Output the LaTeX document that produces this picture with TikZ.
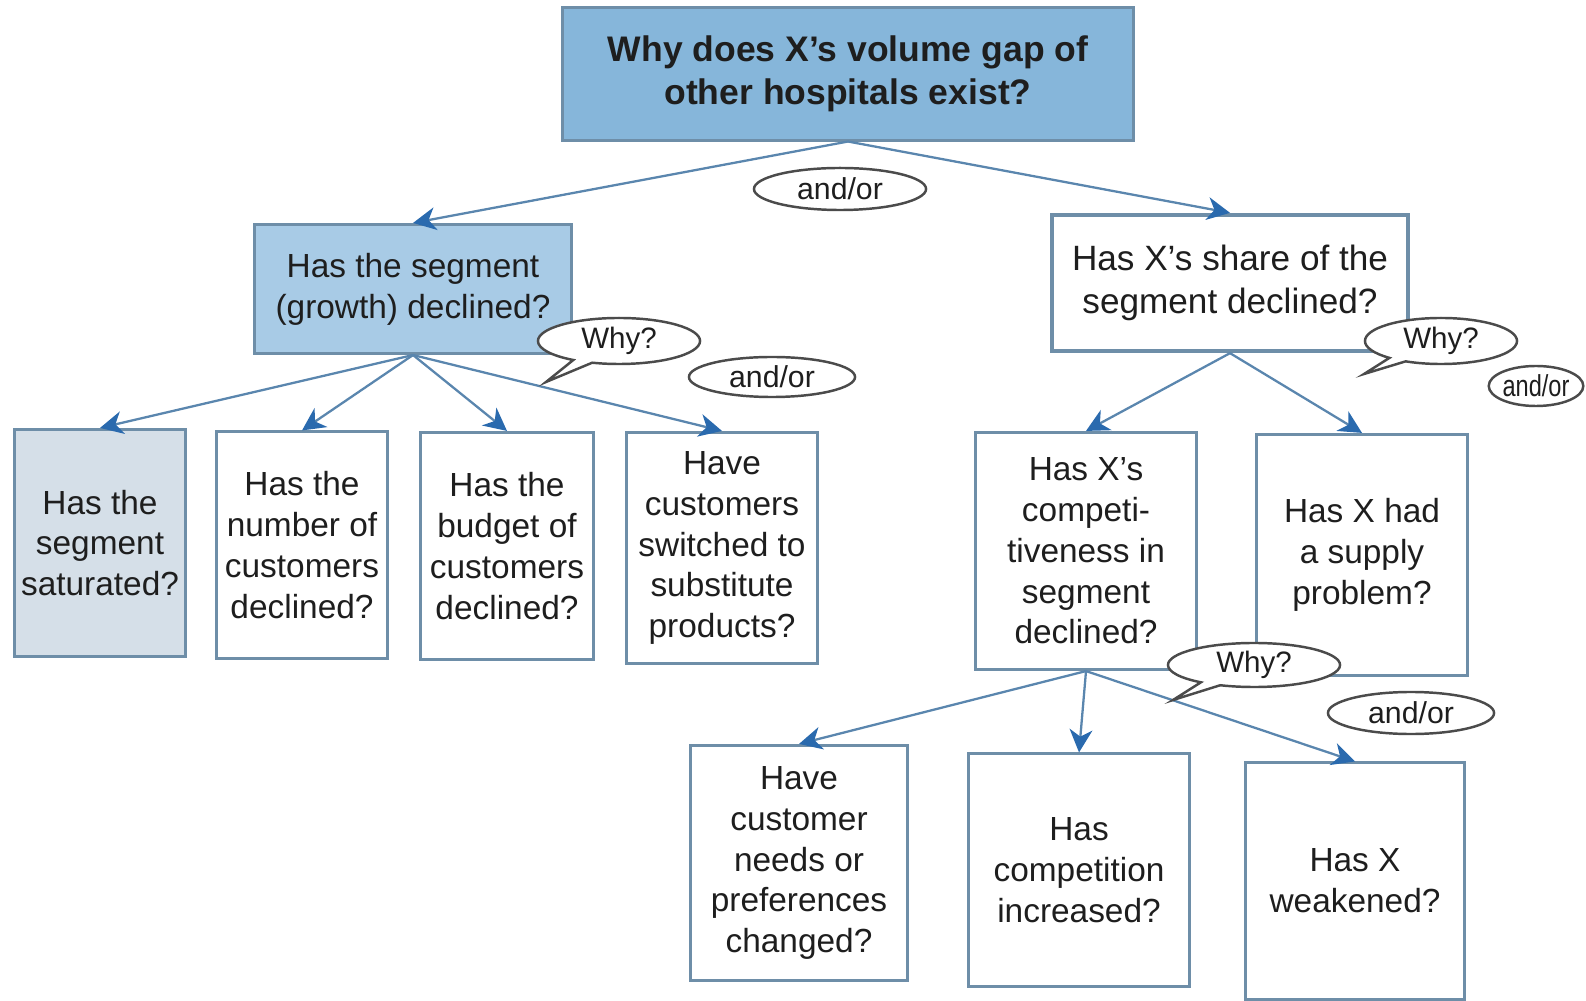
\documentclass[tikz,border=0pt]{standalone}
\usepackage{fontspec}
\setmainfont{Liberation Sans}
\usetikzlibrary{arrows.meta,shapes.geometric,shapes.callouts}

\definecolor{topfill}{HTML}{86B6DA}
\definecolor{midfill}{HTML}{A8CBE6}
\definecolor{palefill}{HTML}{D5DFE8}
\definecolor{edge}{HTML}{6E8EA8}
\definecolor{link}{HTML}{5A86AE}
\definecolor{tip}{HTML}{2A6AAE}
\definecolor{ink}{HTML}{1E1E1E}

\tikzset{
  qbox/.style={draw=edge, line width=0.85pt, fill=white, align=center,
    text=ink, font=\fontsize{9.5}{11.6}\selectfont, inner sep=2pt},
  size/.style 2 args={minimum width=#1cm, minimum height=#2cm},
  link/.style={draw=link, line width=0.65pt,
    -{Stealth[length=6.5pt,width=6.5pt,inset=2pt,color=tip]}},
  andor/.style={ellipse, draw=ink!80, line width=0.7pt, fill=white,
    text=ink, font=\fontsize{8.6}{10}\selectfont, inner sep=0pt},
  whybub/.style={ellipse callout, draw=ink!80, line width=0.7pt, fill=white,
    text=ink, font=\fontsize{8.4}{10}\selectfont, inner sep=0pt,
    callout pointer width=12pt}
}

\begin{document}
\begin{tikzpicture}[x=0.01cm,y=-0.01cm]
\useasboundingbox (0,0) rectangle (1586,1001);

% question boxes
\node[qbox, fill=topfill, font=\bfseries\fontsize{10.1}{12.2}\selectfont,
      size={5.70}{1.32}] (top) at (848,74)
  {Why does X’s volume gap of\\other hospitals exist?};
\node[qbox, fill=midfill, size={3.17}{1.29}] (seg) at (413,289)
  {Has the segment\\(growth) declined?};
\node[qbox, font=\fontsize{10}{12.2}\selectfont, line width=1.2pt,
      size={3.56}{1.36}] (share) at (1230,283)
  {Has X’s share of the\\segment declined?};

\node[qbox, fill=palefill, size={1.70}{2.27}] (sat) at (100,543)
  {Has the\\segment\\saturated?};
\node[qbox, size={1.71}{2.26}] (num) at (302,545)
  {Has the\\number of\\customers\\declined?};
\node[qbox, size={1.72}{2.27}] (bud) at (507,546)
  {Has the\\budget of\\customers\\declined?};
\node[qbox, size={1.90}{2.31}] (sub) at (722,548)
  {Have\\customers\\switched to\\substitute\\products?};

\node[qbox, size={2.21}{2.37}] (comp) at (1086,551)
  {Has X’s\\competi-\\tiveness in\\segment\\declined?};
\node[qbox, size={2.10}{2.41}] (supply) at (1362,555)
  {Has X had\\a supply\\problem?};

\node[qbox, size={2.16}{2.35}] (needs) at (799,863)
  {Have\\customer\\needs or\\preferences\\changed?};
\node[qbox, size={2.20}{2.32}] (compi) at (1079,870)
  {Has\\competition\\increased?};
\node[qbox, size={2.19}{2.36}] (weak) at (1355,881)
  {Has X\\weakened?};

% connectors
\draw[link] (top.south) -- (seg.north);
\draw[link] (top.south) -- (share.north);
\foreach \t in {sat,num,bud,sub} \draw[link] (seg.south) -- (\t.north);
\draw[link] (share.south) -- (comp.north);
\draw[link] (share.south) -- (supply.north);
\foreach \t in {needs,compi,weak} \draw[link] (comp.south) -- (\t.north);

% and/or labels
\node[andor, size={1.72}{0.42}] (ao1) at (840,189) {and/or};
\node[andor, size={1.66}{0.40}] (ao2) at (772,377) {and/or};
\node[andor, size={0.86}{0.40}] (ao3) at (1536,386) {\scalebox{0.78}[1]{and/or}};
\node[andor, size={1.66}{0.42}] (ao4) at (1411,713) {and/or};

% Why? speech bubbles
\coordinate (p1) at (546,382);
\coordinate (p2) at (1364,374);
\coordinate (p3) at (1173,700);
\node[whybub, size={1.62}{0.46},
      callout absolute pointer={(p1)}] (why1) at (619,341) {Why?};
\node[whybub, size={1.52}{0.46},
      callout absolute pointer={(p2)}] (why2) at (1441,341) {Why?};
\node[whybub, size={1.72}{0.44},
      callout absolute pointer={(p3)}] (why3) at (1254,665) {Why?};
\end{tikzpicture}
\end{document}
